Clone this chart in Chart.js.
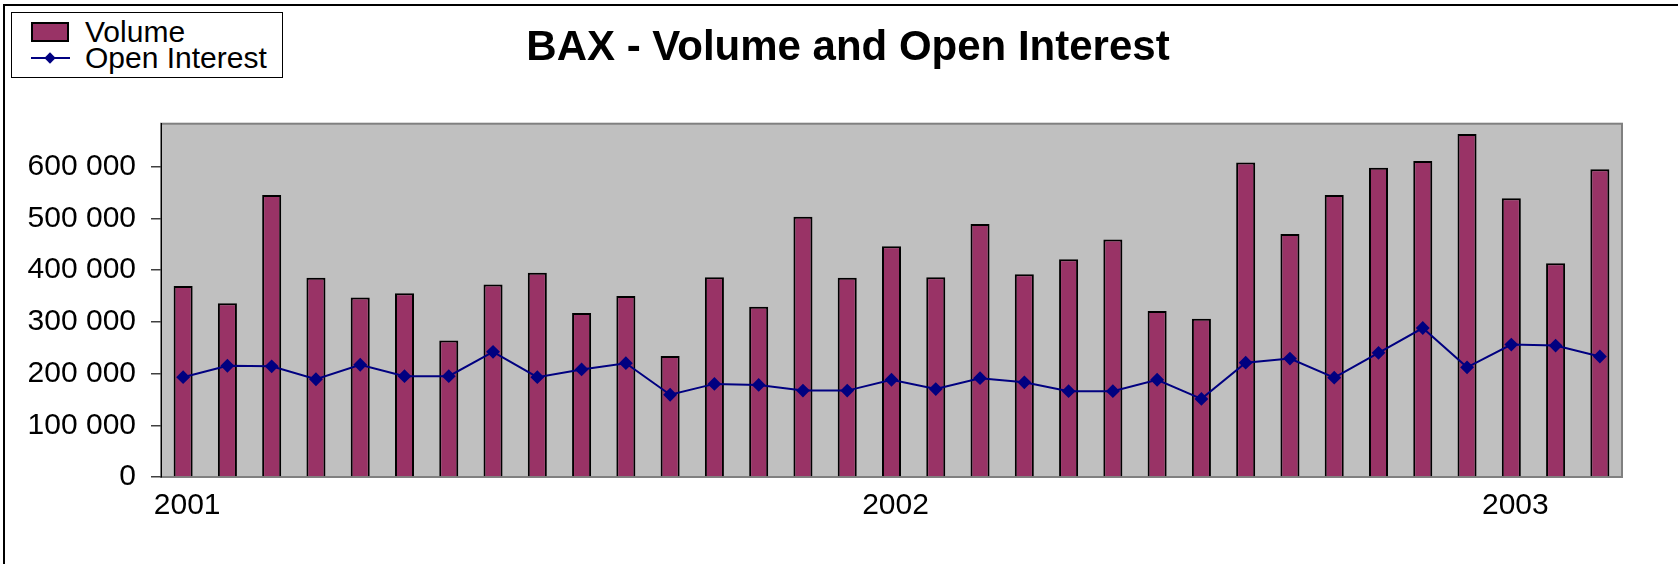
<!DOCTYPE html>
<html>
<head>
<meta charset="utf-8">
<script src="https://cdn.jsdelivr.net/npm/chart.js@4"></script>
<style>
  body { margin: 0; background: #fff; }
  #wrap { position: relative; width: 1678px; height: 564px; overflow: hidden; }
  #frame { position: absolute; left: 3px; top: 4px; width: 1700px; height: 600px;
           border-top: 2px solid #000; border-left: 2px solid #000; pointer-events: none; }
  #legend { position: absolute; left: 11px; top: 12px; width: 272px; height: 66px;
            border: 1px solid #000; background: #fff; box-sizing: border-box;
            font-family: "Liberation Sans", Arial, sans-serif; font-size: 30px; color: #000; }
  #legend .txt { position: absolute; left: 73px; line-height: 30px; white-space: nowrap; }
</style>
</head>
<body>
<div id="wrap">
  <canvas id="myChart" width="1678" height="564"></canvas>
  <div id="frame"></div>
  <div id="legend"></div>
</div>
<script>
// monthly periods, Volume and Open Interest
var periods = ["1", "2", "3", "4", "5", "6", "7", "8", "9", "10", "11",
  "12", "13", "14", "15", "16", "17", "18", "19", "20", "21", "22",
  "23", "24", "25", "26", "27", "28", "29", "30", "31", "32", "33"];

var volume = [369000, 336000, 545000, 385000, 347000, 355000, 264000, 372000, 395000, 317000, 350000,
  234000, 386000, 329000, 503000, 385000, 446000, 386000, 489000, 392000, 421000, 459000,
  321000, 306000, 608000, 470000, 545000, 598000, 611000, 663000, 539000, 413000, 595000];

var openInterest = [193000, 215000, 214000, 189000, 217000, 195000, 195000, 242000, 193000, 208000, 220000,
  159000, 180000, 178000, 167000, 167000, 188000, 170000, 191000, 183000, 166000, 166000,
  188000, 151000, 221000, 229000, 192000, 240000, 288000, 212000, 256000, 254000, 233000];

// y axis ticks
var yTicks = [0, 100000, 200000, 300000, 400000, 500000, 600000];
var yTickLabels = ["0", "100 000", "200 000", "300 000", "400 000", "500 000", "600 000"];

// year labels along the bottom and the period they sit under
var yearLabels = ["2001", "2002", "2003"];
var yearIndex = [0, 16, 30];

Chart.defaults.font.family = '"Liberation Sans", Arial, sans-serif';
Chart.defaults.color = "#000";

// grey plot area with border, title centred like the original
var plotBg = {
  id: "plotBg",
  afterLayout: function (chart) {
    if (chart.titleBlock) {
      chart.titleBlock.left = 74;
      chart.titleBlock.right = 1622;
    }
  },
  beforeDraw: function (chart) {
    var ctx = chart.ctx;
    var a = chart.chartArea;
    ctx.save();
    ctx.fillStyle = "#c0c0c0";
    ctx.fillRect(a.left, a.top, a.right - a.left, a.bottom - a.top);
    ctx.strokeStyle = "#808080";
    ctx.lineWidth = 2;
    ctx.strokeRect(a.left, a.top, a.right - a.left, a.bottom - a.top);
    ctx.restore();
  }
};

var ctx = document.getElementById("myChart").getContext("2d");
var myChart = new Chart(ctx, {
  type: "bar",
  data: {
    labels: periods,
    datasets: [
      {
        type: "line",
        label: "Open Interest",
        data: openInterest,
        borderColor: "#000080",
        backgroundColor: "#000080",
        borderWidth: 2,
        tension: 0,
        pointStyle: "rectRot",
        pointRadius: 5.5,
        pointBackgroundColor: "#000080",
        pointBorderColor: "#000080",
        order: 0
      },
      {
        label: "Volume",
        data: volume,
        backgroundColor: "#993366",
        borderColor: "#000",
        borderWidth: 2,
        barPercentage: 0.43,
        categoryPercentage: 1,
        order: 1
      }
    ]
  },
  options: {
    responsive: false,
    animation: false,
    layout: { padding: { left: 0, right: 56, top: 0, bottom: 40 } },
    plugins: {
      legend: { display: false },
      tooltip: { enabled: false },
      title: {
        display: true,
        text: "BAX - Volume and Open Interest",
        color: "#000",
        font: { size: 42, weight: "bold" },
        padding: { top: 23, bottom: 50.3 }
      }
    },
    scales: {
      x: {
        type: "category",
        offset: true,
        afterFit: function (s) { s.height = 47; },
        grid: { display: false, drawTicks: false },
        border: { display: false },
        ticks: {
          padding: 11,
          labelOffset: 4,
          autoSkip: false,
          maxRotation: 0,
          font: { size: 30 },
          callback: function (v, i) {
            var k = yearIndex.indexOf(i);
            return k >= 0 ? yearLabels[k] : "";
          }
        }
      },
      y: {
        min: 0,
        max: 683000,
        afterBuildTicks: function (s) {
          s.ticks = yTicks.map(function (v) { return { value: v }; });
        },
        afterFit: function (s) { s.width = 161; },
        border: { color: "#000", width: 1 },
        grid: { drawOnChartArea: false, tickLength: 10, color: "#404040", lineWidth: 1.5 },
        ticks: {
          padding: 15,
          font: { size: 30 },
          callback: function (v, i) { return yTickLabels[i]; }
        }
      }
    }
  },
  plugins: [plotBg]
});

// legend box built from the datasets
var legend = document.getElementById("legend");
var vol = myChart.data.datasets[1];
var oi = myChart.data.datasets[0];
legend.innerHTML =
  '<div style="position:absolute;left:19px;top:9px;width:38px;height:20px;box-sizing:border-box;' +
  'background:' + vol.backgroundColor + ';border:2px solid #000"></div>' +
  '<div class="txt" style="top:4px">' + vol.label + '</div>' +
  '<div style="position:absolute;left:19px;top:44px;width:39px;height:2px;background:' + oi.borderColor + '"></div>' +
  '<div style="position:absolute;left:34px;top:41px;width:8px;height:8px;transform:rotate(45deg);background:' + oi.borderColor + '"></div>' +
  '<div class="txt" style="top:30px">' + oi.label + '</div>';
</script>
</body>
</html>
